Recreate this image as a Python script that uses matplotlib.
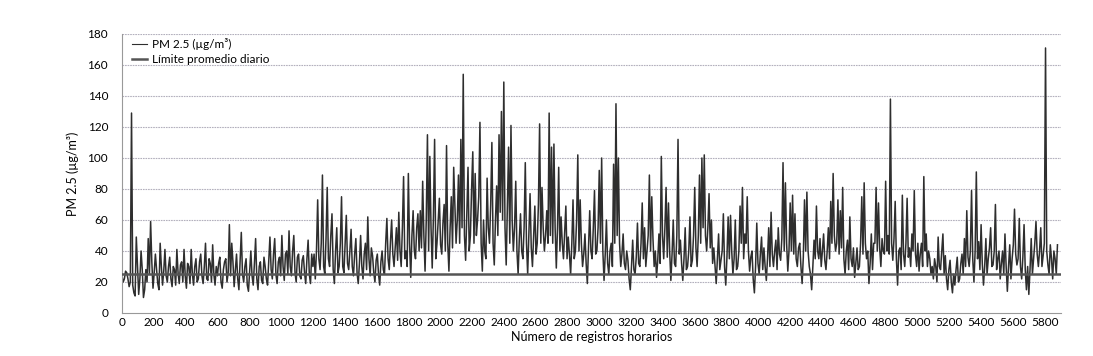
import matplotlib
matplotlib.use("Agg")
import matplotlib.pyplot as plt
import numpy as np

plt.rcParams['font.family'] = ['Lato', 'DejaVu Sans']

# Hourly PM2.5 readings, one value every 15 records
record_step = 15
pm25 = [
    24, 22, 26, 17, 129, 13, 49, 12, 40, 10, 28, 48, 59, 16, 38, 19, 45, 18, 41, 20,
    36, 17, 28, 41, 19, 33, 41, 16, 30, 41, 18, 35, 22, 38, 19, 45, 21, 32, 44, 18,
    24, 36, 16, 33, 20, 57, 45, 17, 38, 15, 52, 20, 35, 14, 40, 18, 48, 15, 33, 19,
    30, 18, 49, 22, 48, 19, 36, 50, 21, 40, 53, 24, 50, 20, 38, 22, 37, 19, 47, 19,
    30, 22, 73, 28, 89, 25, 81, 30, 64, 19, 55, 30, 75, 26, 63, 28, 54, 24, 48, 19,
    50, 22, 45, 62, 24, 37, 20, 38, 18, 40, 25, 61, 28, 60, 30, 55, 65, 30, 88, 40,
    90, 23, 66, 35, 64, 66, 85, 27, 115, 101, 29, 112, 45, 74, 38, 70, 108, 27, 75, 94,
    45, 89, 112, 154, 34, 94, 50, 104, 90, 60, 123, 27, 40, 87, 45, 110, 31, 82, 115, 130,
    149, 31, 107, 121, 40, 85, 25, 64, 35, 97, 25, 77, 30, 69, 45, 122, 81, 40, 66, 129,
    107, 109, 29, 94, 62, 35, 69, 49, 25, 73, 40, 102, 73, 30, 51, 19, 66, 35, 79, 40,
    92, 100, 21, 60, 25, 45, 96, 135, 100, 30, 51, 28, 34, 15, 47, 25, 58, 30, 71, 55,
    40, 89, 75, 30, 23, 51, 101, 35, 81, 71, 21, 60, 30, 112, 47, 21, 55, 30, 62, 34,
    81, 30, 89, 100, 102, 40, 77, 60, 42, 19, 51, 34, 64, 18, 62, 63, 25, 60, 30, 69,
    81, 51, 75, 27, 40, 13, 58, 25, 49, 42, 21, 55, 65, 30, 47, 55, 34, 97, 84, 27,
    71, 76, 64, 30, 45, 19, 73, 78, 30, 15, 47, 69, 35, 30, 51, 28, 55, 72, 90, 40,
    73, 66, 81, 25, 47, 62, 30, 23, 42, 30, 75, 84, 35, 19, 51, 45, 81, 71, 30, 40,
    85, 50, 138, 34, 72, 18, 42, 76, 30, 74, 42, 51, 79, 30, 27, 45, 88, 51, 40, 25,
    22, 30, 49, 28, 51, 37, 15, 34, 13, 18, 36, 22, 38, 48, 66, 30, 79, 20, 91, 46,
    57, 18, 48, 35, 55, 31, 70, 35, 22, 40, 51, 14, 44, 35, 67, 31, 61, 22, 57, 15,
    12, 48, 35, 59, 30, 55, 37, 171, 31, 44, 22, 35, 44,
]
# Readings half-way between the values above (records 7.5 + 15*i)
pm25_between = [
    20, 27, 22, 20, 18, 11, 30, 22, 28, 15, 20, 25, 33, 26, 28, 15, 30, 27, 24, 30,
    22, 30, 18, 26, 31, 20, 24, 32, 19, 25, 30, 20, 33, 24, 30, 22, 35, 20, 25, 30,
    32, 20, 28, 35, 26, 24, 33, 28, 22, 34, 25, 30, 18, 27, 24, 32, 22, 30, 21, 36,
    22, 34, 28, 38, 25, 33, 24, 30, 38, 25, 30, 40, 26, 36, 24, 34, 26, 35, 25, 38,
    38, 40, 35, 45, 30, 48, 35, 50, 28, 40, 26, 45, 30, 44, 32, 40, 30, 38, 26, 32,
    30, 38, 28, 35, 42, 26, 34, 25, 33, 28, 45, 35, 46, 38, 42, 34, 40, 55, 35, 30,
    45, 50, 40, 55, 40, 42, 50, 60, 40, 55, 62, 35, 60, 44, 58, 40, 45, 55, 42, 70,
    60, 45, 55, 50, 65, 40, 80, 45, 50, 75, 45, 60, 35, 55, 70, 45, 60, 50, 65, 60,
    55, 70, 45, 60, 55, 40, 48, 40, 55, 45, 50, 42, 50, 38, 70, 45, 55, 50, 45, 50,
    45, 55, 55, 40, 45, 52, 35, 38, 45, 35, 60, 40, 45, 38, 32, 42, 40, 55, 38, 55,
    45, 40, 38, 32, 40, 30, 45, 50, 45, 38, 32, 40, 22, 30, 28, 36, 32, 45, 35, 30,
    50, 40, 48, 40, 34, 32, 50, 55, 36, 40, 38, 32, 50, 38, 32, 35, 28, 40, 30, 50,
    42, 50, 45, 55, 50, 55, 42, 32, 30, 35, 28, 40, 30, 36, 35, 40, 35, 28, 40, 45,
    35, 45, 40, 36, 22, 30, 32, 38, 28, 30, 35, 30, 38, 40, 28, 38, 48, 40, 45, 40,
    40, 38, 35, 42, 30, 36, 40, 40, 25, 30, 35, 40, 48, 40, 34, 40, 35, 45, 50, 45,
    38, 42, 35, 40, 28, 35, 42, 32, 28, 45, 38, 45, 40, 32, 28, 45, 40, 42, 48, 38,
    40, 38, 45, 48, 35, 40, 28, 38, 45, 36, 30, 40, 38, 45, 38, 30, 40, 30, 35, 30,
    35, 20, 30, 40, 25, 22, 28, 20, 25, 28, 20, 32, 25, 30, 36, 40, 35, 40, 35, 28,
    32, 30, 25, 42, 30, 40, 28, 40, 32, 25, 30, 30, 22, 44, 38, 35, 30, 36, 28, 30,
    28, 25, 45, 38, 40, 30, 45, 40, 25, 35, 40, 25,
]
daily_limit = 25
series_label = 'PM 2.5 (µg/m³)'
limit_label = 'Límite promedio diario'
x_ticks = list(range(0, 5801, 200))
y_ticks = list(range(0, 181, 20))
x_title = 'Número de registros horarios'
y_title = 'PM 2.5 (µg/m³)'

# merge the two reading lists in record order
values = np.empty(len(pm25) + len(pm25_between))
values[0::2] = pm25
values[1::2] = pm25_between
records = np.arange(len(values)) * (record_step / 2)

fig = plt.figure(figsize=(10.93, 3.56), dpi=100)
ax = fig.add_axes([0.1116, 0.1208, 0.8588, 0.7837])

grid_c = '#b3b0bd'
for yv in y_ticks[1:]:
    ax.axhline(yv, color=grid_c, lw=0.8, ls=(0, (1.5, 0.8)), zorder=0)

ax.plot(records, values, color='#2e2e2e', lw=1.1, label=series_label, zorder=2)
ax.axhline(daily_limit, color='#555555', lw=1.8, label=limit_label, zorder=3)

ax.set_xlim(0, 5900)
ax.set_ylim(0, 180)
ax.set_xticks(x_ticks)
ax.set_yticks(y_ticks)
ax.tick_params(axis='both', length=0, labelsize=8.5, colors='black', pad=3)
ax.tick_params(axis='y', pad=10)

for s in ['top', 'right']:
    ax.spines[s].set_visible(False)
ax.spines['left'].set_color('#999999')
ax.spines['bottom'].set_color('#999999')
ax.spines['left'].set_linewidth(0.8)
ax.spines['bottom'].set_linewidth(0.8)

ax.set_xlabel(x_title, fontsize=9, labelpad=2)
ax.set_ylabel(y_title, fontsize=9, labelpad=6)

leg = ax.legend(loc='upper left', frameon=False, fontsize=8.5, handlelength=1.3,
                handletextpad=0.4, borderaxespad=0.2, labelspacing=0.3,
                bbox_to_anchor=(0.003, 1.01))
leg.get_lines()[0].set_linewidth(0.8)

fig.savefig('out.png', dpi=100)
